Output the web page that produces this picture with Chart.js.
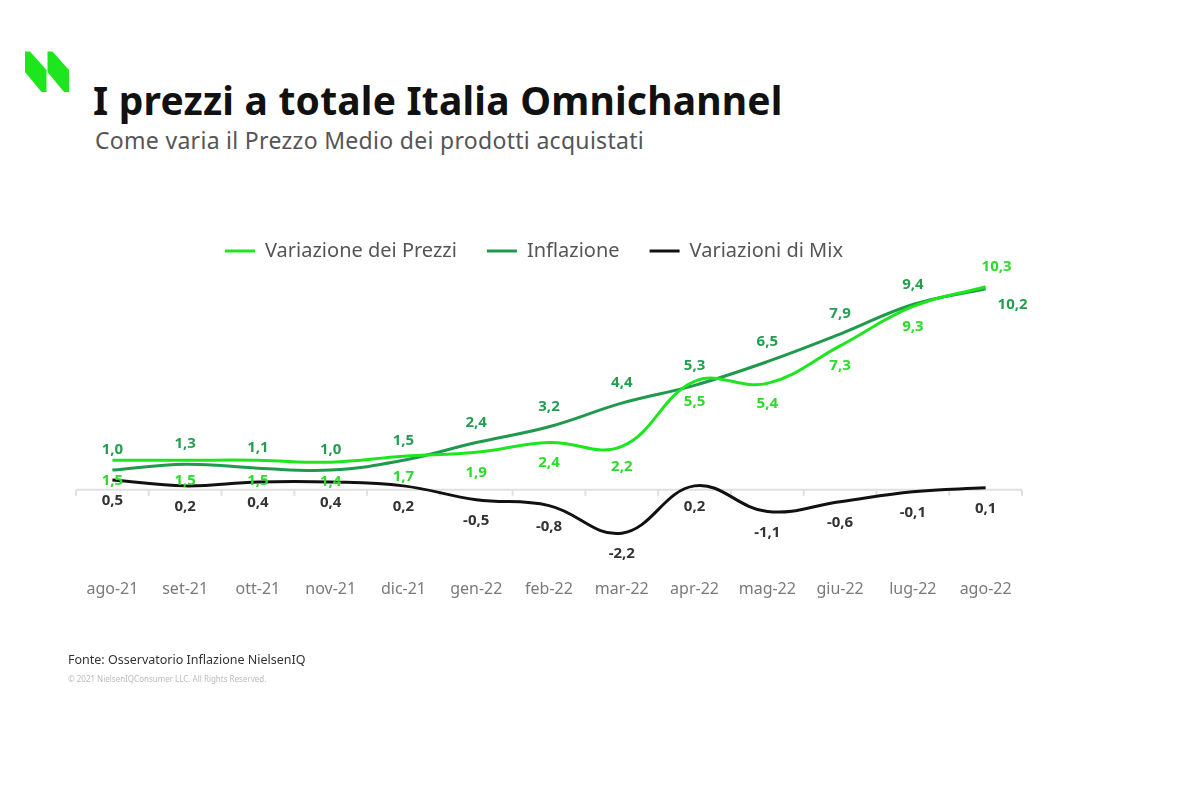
<!DOCTYPE html>
<html lang="it">
<head>
<meta charset="utf-8">
<title>I prezzi a totale Italia Omnichannel</title>
<script src="https://cdn.jsdelivr.net/npm/chart.js@4.4.1/dist/chart.umd.min.js"></script>
<style>
  html, body { margin: 0; padding: 0; background: #fff; }
  body { width: 1200px; height: 800px; position: relative; overflow: hidden; font-family: "Noto Sans", "Open Sans", sans-serif; }
  #chart { position: absolute; left: 0; top: 0; }
  .logo { position: absolute; left: 0; top: 0; }
  .title { position: absolute; left: 93px; top: 73px; font-size: 39px; font-weight: 700; color: #111; white-space: nowrap; letter-spacing: 0.2px; }
  .subtitle { position: absolute; left: 95px; top: 124px; font-size: 23px; color: #555; white-space: nowrap; letter-spacing: 0.3px; }
  .source { position: absolute; left: 68px; top: 651px; font-size: 12.5px; color: #333; white-space: nowrap; }
  .copy { position: absolute; left: 68px; top: 673px; font-size: 8px; color: #bbb; white-space: nowrap; }
</style>
</head>
<body>
<svg class="logo" width="80" height="100">
  <polygon points="25,51.5 30,51.5 46.5,70 46.5,92 41.5,92 25,72" fill="#1ee61e"/>
  <polygon points="47.5,51.5 52.5,51.5 69,70 69,92 64,92 47.5,72" fill="#1ee61e"/>
</svg>
<div class="title">I prezzi a totale Italia Omnichannel</div>
<div class="subtitle">Come varia il Prezzo Medio dei prodotti acquistati</div>
<canvas id="chart" width="1200" height="800"></canvas>
<div class="source">Fonte: Osservatorio Inflazione NielsenIQ</div>
<div class="copy">© 2021 NielsenIQConsumer LLC. All Rights Reserved.</div>

<script>
// --- Data ---
const months = ['ago-21', 'set-21', 'ott-21', 'nov-21', 'dic-21', 'gen-22', 'feb-22', 'mar-22', 'apr-22', 'mag-22', 'giu-22', 'lug-22', 'ago-22'];
const variazionePrezzi = [1.5, 1.5, 1.5, 1.4, 1.7, 1.9, 2.4, 2.2, 5.5, 5.4, 7.3, 9.3, 10.3];
const inflazione = [1.0, 1.3, 1.1, 1.0, 1.5, 2.4, 3.2, 4.4, 5.3, 6.5, 7.9, 9.4, 10.2];
const variazioniMix = [0.5, 0.2, 0.4, 0.4, 0.2, -0.5, -0.8, -2.2, 0.2, -1.1, -0.6, -0.1, 0.1];

const fmt = v => v.toFixed(1).replace('.', ',');

// --- Zero line with small ticks between categories ---
const zeroAxis = {
  id: 'zeroAxis',
  beforeDatasetsDraw(chart) {
    const { ctx, chartArea, scales: { x, y } } = chart;
    const y0 = y.getPixelForValue(0);
    const step = x.getPixelForValue(1) - x.getPixelForValue(0);
    ctx.save();
    ctx.strokeStyle = '#e0e0e0';
    ctx.lineWidth = 2;
    ctx.beginPath();
    ctx.moveTo(chartArea.left, y0);
    ctx.lineTo(chartArea.right, y0);
    for (let i = 0; i <= months.length; i++) {
      const px = x.getPixelForValue(0) - step / 2 + i * step;
      ctx.moveTo(px, y0);
      ctx.lineTo(px, y0 + 6);
    }
    ctx.stroke();
    ctx.restore();
  }
};

// --- Value labels next to each point ---
const pointLabels = {
  id: 'pointLabels',
  afterDatasetsDraw(chart) {
    const ctx = chart.ctx;
    ctx.save();
    ctx.font = '700 15px "Noto Sans", sans-serif';
    ctx.textAlign = 'center';
    ctx.textBaseline = 'middle';
    chart.data.datasets.forEach((ds, i) => {
      const meta = chart.getDatasetMeta(i);
      meta.data.forEach((pt, j) => {
        let dx = 0, dy = ds.labelOffset;
        // last month: the two green labels swap sides
        if (j === ds.data.length - 1 && ds.lastOffset) {
          dx = ds.lastOffset[0];
          dy = ds.lastOffset[1];
        }
        ctx.fillStyle = ds.labelColor;
        ctx.fillText(fmt(ds.data[j]), pt.x + dx, pt.y + dy);
      });
    });
    ctx.restore();
  }
};

// --- Chart ---
new Chart(document.getElementById('chart'), {
  type: 'line',
  data: {
    labels: months,
    datasets: [
      {
        label: 'Variazione dei Prezzi',
        data: variazionePrezzi,
        borderColor: '#1ee61e',
        backgroundColor: '#1ee61e',
        labelColor: '#2bdc2b',
        labelOffset: 20,
        lastOffset: [11, -20],
        clip: false
      },
      {
        label: 'Inflazione',
        data: inflazione,
        borderColor: '#1f9a4c',
        backgroundColor: '#1f9a4c',
        labelColor: '#239e51',
        labelOffset: -20,
        lastOffset: [27, 16],
        clip: false
      },
      {
        label: 'Variazioni di Mix',
        data: variazioniMix,
        borderColor: '#111111',
        backgroundColor: '#111111',
        labelColor: '#333333',
        labelOffset: 21,
        clip: false
      }
    ]
  },
  options: {
    responsive: false,
    animation: false,
    layout: { padding: { top: 211, left: 46, right: 178, bottom: 181 } },
    elements: {
      line: { borderWidth: 3, tension: 0.4, fill: false },
      point: { radius: 0, hoverRadius: 0 }
    },
    plugins: {
      tooltip: { enabled: false },
      legend: {
        position: 'top',
        labels: {
          boxWidth: 30,
          boxHeight: 3,
          padding: 30,
          color: '#555',
          font: { family: '"Noto Sans", sans-serif', size: 20 },
          generateLabels(chart) {
            const items = Chart.defaults.plugins.legend.labels.generateLabels(chart);
            items.forEach(it => { it.lineWidth = 0; });
            return items;
          }
        }
      }
    },
    scales: {
      x: {
        offset: true,
        grid: { display: false, drawTicks: false },
        border: { display: false },
        ticks: {
          padding: 20,
          color: '#7a7a7a',
          font: { family: '"Noto Sans", sans-serif', size: 16 }
        }
      },
      y: {
        min: -3.55,
        max: 11.1,
        grid: { display: false, drawTicks: false },
        border: { display: false },
        ticks: { display: false },
        afterFit(scale) { scale.width = 30; }
      }
    }
  },
  plugins: [zeroAxis, pointLabels]
});
</script>
</body>
</html>
